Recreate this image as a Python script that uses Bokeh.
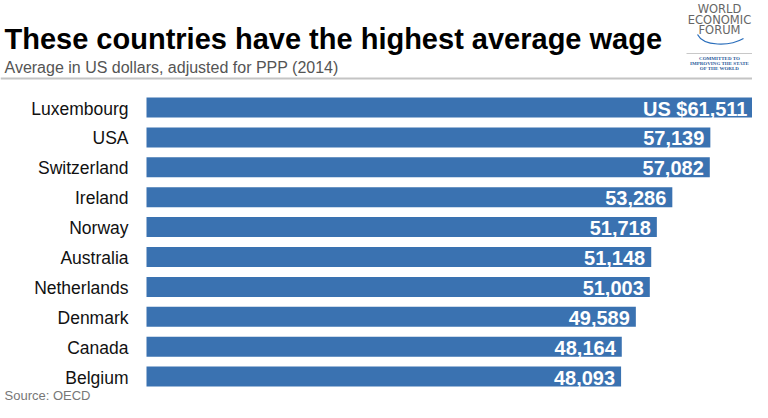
from bokeh.plotting import figure
from bokeh.models import Range1d, ColumnDataSource
from bokeh.core.properties import value
from bokeh.embed import file_html
from bokeh.resources import INLINE

# ---- data ----
countries = ["Luxembourg", "USA", "Switzerland", "Ireland", "Norway",
             "Australia", "Netherlands", "Denmark", "Canada", "Belgium"]
wages = [61511, 57139, 57082, 53286, 51718, 51148, 51003, 49589, 48164, 48093]
title_text = "These countries have the highest average wage"
subtitle_text = "Average in US dollars, adjusted for PPP (2014)"
source_text = "Source: OECD"

# ---- layout params (pixels) ----
W, H = 752, 402
x0_px = 146          # pixel where value 0 sits
px_per_unit = 0.009868
row0_px = 107        # centre of first bar from top
row_pitch = 29.9
bar_h = 0.67
BAR = "#3a72b1"

labels = [("US $" if i == 0 else "") + f"{v:,}" for i, v in enumerate(wages)]
src = ColumnDataSource(dict(country=countries, wage=wages, label=labels,
                            row=list(range(len(countries)))))

p = figure(width=W, height=H, output_backend="svg", toolbar_location=None,
           x_range=Range1d(-x0_px / px_per_unit, (W - x0_px) / px_per_unit),
           y_range=Range1d((H - row0_px) / row_pitch, -row0_px / row_pitch),
           x_axis_location=None, y_axis_location=None,
           min_border=0, outline_line_color=None, background_fill_color="white")
p.grid.visible = False
p.extra_x_ranges = {"px": Range1d(0, W)}
p.extra_y_ranges = {"px": Range1d(H, 0)}

# bars
p.hbar(y="row", right="wage", left=0, height=bar_h, source=src,
       fill_color=BAR, line_color=None)
# value labels
p.text(x="wage", y="row", text="label", source=src, x_offset=-6, y_offset=1,
       text_align="right", text_baseline="middle", text_color="white",
       text_font=value("Liberation Sans"), text_font_style="bold",
       text_font_size=value("20px"))
# country labels
p.text(x=0, y="row", text="country", source=src, x_offset=-18, y_offset=1,
       text_align="right", text_baseline="middle", text_color="#111111",
       text_font=value("Liberation Sans"), text_font_size=value("17.5px"))

def ptext(x, y, t, size, color, style="normal", align="left", font="Liberation Sans"):
    p.text(x=[x], y=[y], text=[t], x_range_name="px", y_range_name="px",
           text_align=align, text_baseline="middle", text_color=color,
           text_font=value(font), text_font_style=style,
           text_font_size=value(size))

# title, subtitle, source
ptext(4, 38.5, title_text, "29px", "#000000", "bold")
ptext(4, 67, subtitle_text, "16px", "#555555")
ptext(4, 395, source_text, "13px", "#777777")
# divider
p.segment(x0=[0], y0=[78], x1=[W], y1=[78], x_range_name="px", y_range_name="px",
          line_color="#c4c4c4", line_width=2)

# logo
cx = 719
for yy, t in [(8, "WORLD"), (19, "ECONOMIC"), (29.5, "FORUM")]:
    ptext(cx, yy, t, "11.5px", "#666666", align="center", font="DejaVu Sans")
p.bezier(x0=[697], y0=[34], x1=[743], y1=[38], cx0=[703], cy0=[46],
         cx1=[729], cy1=[46], x_range_name="px", y_range_name="px",
         line_color="#2a6ebb", line_width=1.2)
p.segment(x0=[686], y0=[53], x1=[752], y1=[53], x_range_name="px", y_range_name="px",
          line_color="#c8c8c8", line_width=1)
for yy, t in [(57.5, "COMMITTED TO"), (62.5, "IMPROVING THE STATE"), (67.5, "OF THE WORLD")]:
    ptext(cx, yy, t, "5px", "#2a5a9a", "bold", align="center", font="Liberation Serif")

open("out.html", "w").write(file_html(p, INLINE))
